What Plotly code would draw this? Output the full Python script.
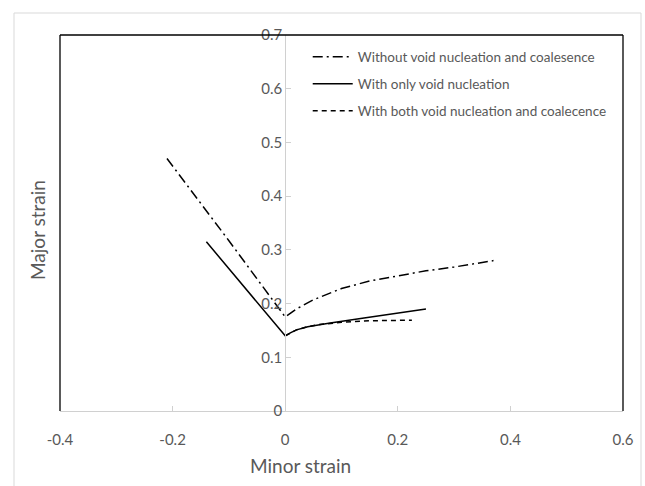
import plotly.graph_objects as go

# Data
names = ["Without void nucleation and coalesence",
         "With only void nucleation",
         "With both void nucleation and coalecence"]

x_without = [-0.21, -0.10, 0.0, 0.02, 0.05, 0.10, 0.15, 0.20, 0.25, 0.30, 0.37]
y_without = [0.470, 0.317, 0.175, 0.190, 0.207, 0.228, 0.242, 0.252, 0.261, 0.268, 0.280]

x_nucl = [-0.14, 0.0, 0.01, 0.02, 0.04, 0.08, 0.14, 0.20, 0.25]
y_nucl = [0.315, 0.140, 0.146, 0.151, 0.157, 0.164, 0.173, 0.182, 0.190]

x_both = [0.0, 0.01, 0.02, 0.04, 0.06, 0.10, 0.15, 0.225]
y_both = [0.140, 0.146, 0.151, 0.157, 0.161, 0.165, 0.168, 0.169]

x_ticks = [-0.4, -0.2, 0, 0.2, 0.4, 0.6]
y_ticks = [0, 0.1, 0.2, 0.3, 0.4, 0.5, 0.6, 0.7]

GRAY_TXT = "#595959"
AXIS_GRAY = "#d0d0d0"
FONT = "Lato"

fig = go.Figure()
fig.add_trace(go.Scatter(x=x_without, y=y_without, mode="lines", name=names[0],
                         legendgroup="a",
                         line=dict(color="black", width=1.5, dash="10px,4px,2px,4px")))
fig.add_trace(go.Scatter(x=x_nucl, y=y_nucl, mode="lines", name=names[1],
                         legendgroup="b",
                         line=dict(color="black", width=1.5)))
fig.add_trace(go.Scatter(x=x_both, y=y_both, mode="lines", name=names[2],
                         legendgroup="c",
                         line=dict(color="black", width=1.5, dash="5px,4px")))

fig.update_layout(
    width=645, height=486,
    margin=dict(l=60, r=22, t=35, b=75),
    paper_bgcolor="white", plot_bgcolor="white",
    font=dict(family=FONT, color=GRAY_TXT, size=15),
    showlegend=True,
    legend=dict(x=0.44, y=0.983, xanchor="left", yanchor="top",
                bgcolor="rgba(0,0,0,0)", font=dict(size=13.5, color=GRAY_TXT, family=FONT),
                tracegroupgap=6.5, itemwidth=40),
    xaxis=dict(range=[-0.4, 0.6], tickvals=x_ticks, ticktext=[str(v) for v in x_ticks],
               showgrid=False, zeroline=False, showline=True, linecolor=AXIS_GRAY,
               linewidth=1, ticks="inside", ticklen=5, tickcolor=AXIS_GRAY,
               ticklabelstandoff=15, tickfont=dict(size=15, color=GRAY_TXT)),
    yaxis=dict(range=[0, 0.7], tickvals=y_ticks, ticktext=[str(v) for v in y_ticks],
               showgrid=False, zeroline=False, showline=True, linecolor=AXIS_GRAY,
               linewidth=1, ticks="inside", ticklen=5, tickcolor=AXIS_GRAY,
               anchor="free", position=0.4, tickfont=dict(size=15, color=GRAY_TXT)),
    annotations=[
        dict(text="Minor strain", x=(300 - 60) / 563, y=(411 - 466) / 376,
             xanchor="center", yanchor="middle",
             xref="paper", yref="paper", showarrow=False,
             font=dict(size=19, color=GRAY_TXT, family=FONT)),
        dict(text="Major strain", x=(38 - 60) / 563, y=(411 - 230) / 376,
             xanchor="center", yanchor="middle",
             xref="paper", yref="paper", showarrow=False, textangle=-90,
             font=dict(size=19, color=GRAY_TXT, family=FONT)),
    ],
    shapes=[
        # plot-area border (left, top, right)
        dict(type="line", xref="paper", yref="paper", x0=0, x1=0, y0=0, y1=1,
             line=dict(color="black", width=1.3)),
        dict(type="line", xref="paper", yref="paper", x0=0, x1=1, y0=1, y1=1,
             line=dict(color="black", width=1.3)),
        dict(type="line", xref="paper", yref="paper", x0=1, x1=1, y0=0, y1=1,
             line=dict(color="black", width=1.3)),
        # outer chart border
        dict(type="rect", xref="paper", yref="paper",
             x0=(14 - 60) / 563, x1=(641 - 60) / 563,
             y0=(411 - 490) / 376, y1=(411 - 13) / 376,
             line=dict(color="#d9d9d9", width=1), layer="below"),
    ],
)

fig.write_html("out.html")
